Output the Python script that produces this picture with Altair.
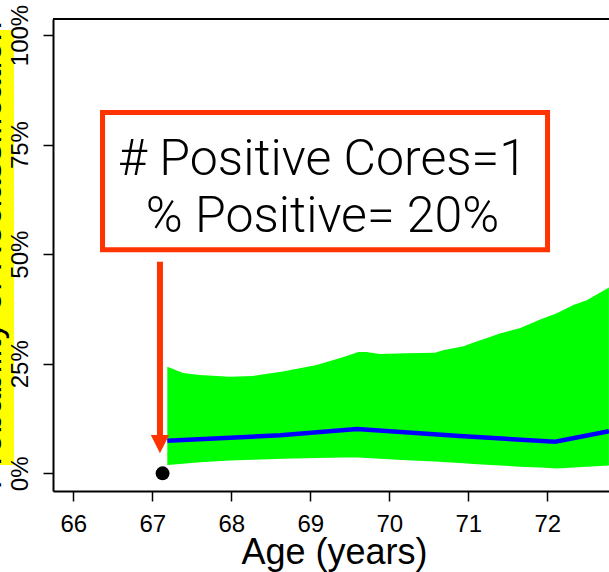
import altair as alt
import pandas as pd

# ---- data ----
band_age = [67.19, 67.39, 67.60, 67.98, 68.27, 68.65, 69.08, 69.41, 69.61, 69.71, 69.88, 70.22,
            70.58, 70.68, 70.94, 71.06, 71.40, 71.65, 71.91, 72.12, 72.33, 72.50, 72.78]
band_upper = [24.3, 22.9, 22.4, 22.0, 22.2, 23.2, 24.7, 26.5, 27.7, 27.7, 27.2, 27.4,
              27.5, 28.1, 29.0, 29.8, 31.9, 33.1, 35.1, 36.5, 38.4, 39.5, 42.4]
band_lower = [1.9, 2.2, 2.5, 2.9, 3.1, 3.3, 3.5, 3.6, 3.6, 3.5, 3.3, 3.0,
              2.7, 2.6, 2.3, 2.1, 1.8, 1.5, 1.3, 1.1, 1.3, 1.5, 1.8]
line_age = [67.19, 68.62, 69.59, 70.89, 72.10, 72.78]
line_prob = [7.4, 8.7, 10.1, 8.5, 7.2, 9.6]
obs_age = [67.13]
obs_prob = [0]
x_ticks = [66, 67, 68, 69, 70, 71, 72]
y_ticks = [0, 25, 50, 75, 100]
x_domain = [65.743, 72.781]
y_domain = [-4.04, 103.65]

# annotation (data units)
box_text = ["# Positive Cores=1", "% Positive= 20%"]
box_text_y = [68.06, 55.12]
box_text_x = [69.155, 69.155]
box_x = [66.370, 72.003]
box_y = [82.32, 51.0]
arrow_x = [67.097]
arrow_y = [48.28, 8.3]
arrow_head_y = [6.64]
highlight_x = [65.072, 65.249]
highlight_y = [1.89, 101.14]

RED = "#FF3300"
FONT = "Liberation Sans"

band_df = pd.DataFrame({"age": band_age, "lo": band_lower, "hi": band_upper})
line_df = pd.DataFrame({"age": line_age, "prob": line_prob})
obs_df = pd.DataFrame({"age": obs_age, "prob": obs_prob})
text_df = pd.DataFrame({"age": box_text_x, "prob": box_text_y, "label": box_text})
box_df = pd.DataFrame({"age": [box_x[0]], "age2": [box_x[1]], "prob": [box_y[0]], "prob2": [box_y[1]]})
arrow_df = pd.DataFrame({"age": arrow_x, "prob": [arrow_y[0]], "prob2": [arrow_y[1]]})
head_df = pd.DataFrame({"age": arrow_x, "prob": arrow_head_y})
hl_df = pd.DataFrame({"age": [highlight_x[0]], "age2": [highlight_x[1]],
                      "prob": [highlight_y[0]], "prob2": [highlight_y[1]]})

xscale = alt.Scale(domain=x_domain, nice=False, zero=False)
yscale = alt.Scale(domain=y_domain, nice=False, zero=False)

x_axis = alt.Axis(values=x_ticks, title="Age (years)", grid=False, tickSize=10, tickWidth=1.5,
                  tickColor="black", domainColor="black", domainWidth=2,
                  labelFontSize=24, labelFont=FONT, labelColor="black",
                  labelBaseline="top", labelPadding=11, labelAngle=0,
                  titleFontSize=36, titleFont=FONT, titleFontWeight="normal", titleColor="black",
                  titleX=281, titleY=72, titleBaseline="alphabetic", titleAnchor="start",
                  titleAlign="center")
y_axis = alt.Axis(values=y_ticks, title="Probability of Reclassification", grid=False,
                  tickSize=10, tickWidth=1.5, tickColor="black", domainColor="black", domainWidth=2,
                  labelFontSize=24, labelFont=FONT, labelColor="black",
                  labelAngle=270, labelAlign="center", labelBaseline="alphabetic", labelPadding=16,
                  labelExpr="datum.value + '%'",
                  titleFontSize=36, titleFont=FONT, titleFontWeight="normal", titleColor="black",
                  titleAngle=270, titleX=-53, titleY=236, titleAlign="center",
                  titleBaseline="alphabetic", zindex=1)


def X(field="age"):
    return alt.X(f"{field}:Q", scale=xscale, axis=x_axis)


def Y(field="prob"):
    return alt.Y(f"{field}:Q", scale=yscale, axis=y_axis)


highlight = alt.Chart(hl_df).mark_rect(color="#FFFF00").encode(
    x=X(), x2="age2:Q", y=Y(), y2="prob2:Q")

band = alt.Chart(band_df).mark_area(color="#00FF00", opacity=1).encode(
    x=X(), y=Y("lo"), y2="hi:Q")

line = alt.Chart(line_df).mark_line(color="#0000FF", strokeWidth=4.5).encode(x=X(), y=Y())

obs = alt.Chart(obs_df).mark_circle(color="black", size=193, opacity=1).encode(x=X(), y=Y())

box = alt.Chart(box_df).mark_rect(fill="white", stroke=RED, strokeWidth=5).encode(
    x=X(), x2="age2:Q", y=Y(), y2="prob2:Q")

text = alt.Chart(text_df).mark_text(font="Roboto", fontWeight=300, fontSize=50, color="black",
                                    align="center", baseline="alphabetic").encode(
    x=X(), y=Y(), text="label:N")

shaft = alt.Chart(arrow_df).mark_rule(color=RED, strokeWidth=6).encode(
    x=X(), y=Y(), y2="prob2:Q")

head = alt.Chart(head_df).mark_point(shape="M-1,-1L1,-1L0,1Z", filled=True, size=335,
                                     color=RED, opacity=1).encode(x=X(), y=Y())

topline = alt.Chart(obs_df).mark_rule(color="black", strokeWidth=2).encode(
    x=alt.value(0), x2=alt.value(556), y=alt.value(0))

chart = alt.layer(highlight, band, line, obs, box, text, shaft, head, topline).properties(
    width=556, height=472,
    autosize=alt.AutoSizeParams(type="none"),
    padding={"left": 53, "top": 19, "right": 0, "bottom": 81},
    background="white",
).configure_view(strokeWidth=0)

chart.save("out.html", embed_options={"renderer": "svg", "actions": False})
